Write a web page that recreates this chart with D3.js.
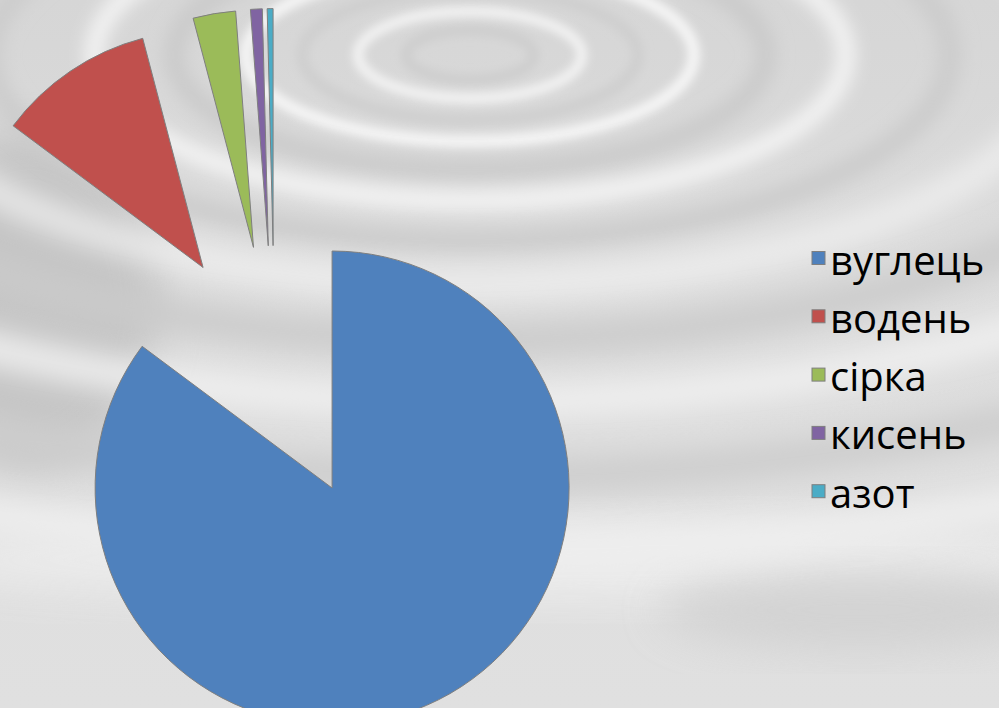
<!DOCTYPE html>
<html>
<head>
<meta charset="utf-8">
<script src="https://cdn.jsdelivr.net/npm/d3@7"></script>
<style>
  html, body { margin: 0; padding: 0; background: #dcdcdc; }
  svg { display: block; }
</style>
</head>
<body>
<svg id="chart" width="999" height="708"></svg>
<script>
// ---- data ----
const categories = ["вуглець", "водень", "сірка", "кисень", "азот"];
const values = [85.2, 10.7, 2.9, 0.8, 0.4];
const colors = ["#4F81BD", "#C0504D", "#9BBB59", "#8064A2", "#4BACC6"];

// ---- layout ----
const W = 999, H = 708;
const cx = 274.7, cy = 373.6, radius = 237, explode = 128;

const svg = d3.select("#chart");
const defs = svg.append("defs");

// background
const bg = defs.append("linearGradient").attr("id", "bgGrad")
  .attr("x1", 0).attr("y1", 0).attr("x2", 0).attr("y2", 1);
bg.append("stop").attr("offset", "0%").attr("stop-color", "#d6d6d6");
bg.append("stop").attr("offset", "45%").attr("stop-color", "#dddddd");
bg.append("stop").attr("offset", "100%").attr("stop-color", "#e0e0e0");

[3, 5, 9, 14, 20].forEach(s => {
  defs.append("filter").attr("id", "blur" + s)
    .attr("x", "-30%").attr("y", "-30%").attr("width", "160%").attr("height", "160%")
    .append("feGaussianBlur").attr("stdDeviation", s);
});

const gbg = svg.append("g");
gbg.append("rect").attr("width", W).attr("height", H).attr("fill", "url(#bgGrad)");

// darker left patch, light lower band
gbg.append("ellipse").attr("cx", 30).attr("cy", 300).attr("rx", 130).attr("ry", 170)
  .attr("fill", "#c2c2c2").attr("filter", "url(#blur20)").attr("opacity", 0.85);
gbg.append("ellipse").attr("cx", 500).attr("cy", 560).attr("rx", 600).attr("ry", 40)
  .attr("fill", "#efefef").attr("filter", "url(#blur20)").attr("opacity", 0.8);
gbg.append("ellipse").attr("cx", 860).attr("cy", 610).attr("rx", 200).attr("ry", 40)
  .attr("fill", "#cdcdcd").attr("filter", "url(#blur20)").attr("opacity", 0.7);

// ripple rings around a point near the top
const rc = { x: 470, y: 55 };
const rings = [
  { r: 40,  col: "#cdcdcd", w: 10, b: 5 },
  { r: 70,  col: "#f4f4f4", w: 10, b: 5 },
  { r: 105, col: "#cfcfcf", w: 12, b: 5 },
  { r: 140, col: "#f6f6f6", w: 12, b: 5 },
  { r: 185, col: "#c9c9c9", w: 18, b: 9 },
  { r: 235, col: "#f8f8f8", w: 16, b: 9 },
  { r: 300, col: "#cccccc", w: 22, b: 9 },
  { r: 370, col: "#f2f2f2", w: 22, b: 14 },
  { r: 460, col: "#cacaca", w: 30, b: 14 },
  { r: 560, col: "#f0f0f0", w: 30, b: 14 },
  { r: 680, col: "#cdcdcd", w: 34, b: 14 },
  { r: 800, col: "#eeeeee", w: 34, b: 14 }
];
gbg.selectAll("ellipse.ring").data(rings).join("ellipse").attr("class", "ring")
  .attr("cx", rc.x).attr("cy", rc.y)
  .attr("rx", d => d.r * 1.6).attr("ry", d => d.r * 0.62)
  .attr("fill", "none").attr("stroke", d => d.col).attr("stroke-width", d => d.w)
  .attr("filter", d => "url(#blur" + d.b + ")");

// ---- pie ----
const pie = d3.pie().sort(null).value(d => d);
const arcs = pie(values);
const arc = d3.arc().innerRadius(0).outerRadius(radius);

const gp = svg.append("g").attr("transform", `translate(${cx},${cy})`);
gp.selectAll("path.slice").data(arcs).join("path").attr("class", "slice")
  .attr("transform", d => {
    const m = (d.startAngle + d.endAngle) / 2;
    return `translate(${explode * Math.sin(m)},${-explode * Math.cos(m)})`;
  })
  .attr("d", arc)
  .attr("fill", (d, i) => colors[i])
  .attr("stroke", "#7f7f7f")
  .attr("stroke-width", 1);

// ---- legend ----
const lx = 812, ly0 = 274.5, lstep = 58.3;
const gl = svg.append("g");
const items = gl.selectAll("g.item").data(categories).join("g").attr("class", "item")
  .attr("transform", (d, i) => `translate(${lx},${ly0 + i * lstep})`);
items.append("rect").attr("x", 0).attr("y", -23).attr("width", 13).attr("height", 13)
  .attr("fill", (d, i) => colors[i]).attr("stroke", "#7f7f7f").attr("stroke-width", 1);
items.append("text").attr("x", 18).attr("y", 0)
  .attr("font-family", "'Open Sans', sans-serif").attr("font-size", 40)
  .attr("font-weight", 500)
  .attr("fill", "#000").text(d => d);
</script>
</body>
</html>
